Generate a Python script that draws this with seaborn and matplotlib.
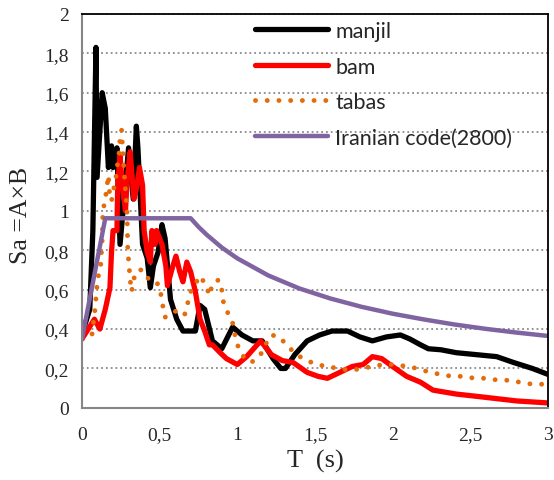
import matplotlib
matplotlib.use("Agg")
import matplotlib.pyplot as plt
import seaborn as sns
import pandas as pd

# spectra (T in s, Sa)
manjil_t = [0, 0.006, 0.05, 0.07, 0.09, 0.097, 0.13, 0.15, 0.17, 0.19, 0.20, 0.225, 0.245,
            0.30, 0.33, 0.35, 0.36, 0.39, 0.42, 0.44, 0.46, 0.49, 0.515, 0.535, 0.57, 0.61,
            0.65, 0.70, 0.73, 0.76, 0.79, 0.84, 0.90, 0.97, 1.03, 1.10, 1.16, 1.23, 1.28,
            1.31, 1.37, 1.45, 1.53, 1.61, 1.71, 1.79, 1.87, 1.96, 2.05, 2.11, 2.18, 2.23,
            2.31, 2.41, 2.54, 2.67, 2.78, 2.90, 3.0]
manjil_sa = [0.35, 0.39, 0.50, 0.90, 1.83, 1.17, 1.60, 1.52, 1.22, 1.33, 1.22, 1.32, 0.83,
             1.32, 1.06, 1.43, 1.32, 0.83, 0.76, 0.61, 0.72, 0.79, 0.93, 0.86, 0.55, 0.45,
             0.39, 0.39, 0.39, 0.52, 0.50, 0.34, 0.30, 0.41, 0.37, 0.34, 0.34, 0.25, 0.20,
             0.20, 0.27, 0.34, 0.37, 0.39, 0.39, 0.36, 0.34, 0.36, 0.37, 0.35, 0.32, 0.30,
             0.295, 0.28, 0.27, 0.26, 0.23, 0.20, 0.17]

bam_t = [0, 0.08, 0.115, 0.15, 0.18, 0.19, 0.20, 0.225, 0.23, 0.245, 0.26, 0.28, 0.29, 0.31,
         0.32, 0.335, 0.355, 0.37, 0.39, 0.40, 0.42, 0.44, 0.45, 0.47, 0.48, 0.515, 0.54,
         0.55, 0.585, 0.605, 0.63, 0.65, 0.675, 0.70, 0.73, 0.76, 0.79, 0.82, 0.84, 0.89,
         0.93, 1.0, 1.06, 1.15, 1.22, 1.29, 1.36, 1.45, 1.52, 1.58, 1.66, 1.74, 1.81, 1.87,
         1.93, 2.0, 2.09, 2.18, 2.26, 2.41, 2.58, 2.80, 3.0]
bam_sa = [0.35, 0.45, 0.40, 0.50, 0.61, 0.79, 0.90, 0.90, 1.13, 1.28, 1.13, 1.0, 1.15, 1.30,
          1.20, 1.06, 1.13, 1.22, 1.13, 0.90, 0.79, 0.74, 0.90, 0.83, 0.90, 0.83, 0.72,
          0.62, 0.72, 0.77, 0.69, 0.64, 0.74, 0.69, 0.59, 0.45, 0.39, 0.32, 0.32, 0.28,
          0.25, 0.22, 0.26, 0.34, 0.27, 0.24, 0.23, 0.18, 0.16, 0.15, 0.18, 0.21, 0.22, 0.26,
          0.25, 0.21, 0.16, 0.13, 0.09, 0.07, 0.055, 0.035, 0.025]

tabas_t = [0, 0.064, 0.084, 0.10, 0.12, 0.13, 0.135, 0.15, 0.16, 0.17, 0.18, 0.19, 0.225,
           0.23, 0.24, 0.245, 0.255, 0.265, 0.28, 0.29, 0.295, 0.31, 0.32, 0.33, 0.36, 0.39,
           0.44, 0.47, 0.49, 0.51, 0.52, 0.535, 0.57, 0.60, 0.625, 0.66, 0.70, 0.73, 0.76,
           0.80, 0.82, 0.84, 0.88, 0.90, 0.91, 0.94, 0.97, 0.985, 1.0, 1.04, 1.09, 1.15,
           1.18, 1.22, 1.27, 1.33, 1.38, 1.45, 1.51, 1.58, 1.65, 1.73, 1.80, 1.87, 1.94,
           2.02, 2.09, 2.16, 2.24, 2.31, 2.38, 2.45, 2.53, 2.61, 2.68, 2.75, 2.82, 2.90,
           2.97, 3.0]
tabas_sa = [0.35, 0.37, 0.50, 0.65, 0.72, 0.85, 1.0, 1.06, 1.12, 1.18, 1.06, 1.05, 1.20,
            1.25, 1.30, 1.37, 1.41, 1.27, 1.10, 1.0, 0.80, 0.65, 0.59, 0.65, 0.70, 0.70,
            0.64, 0.63, 0.63, 0.57, 0.52, 0.46, 0.48, 0.49, 0.49, 0.47, 0.59, 0.63, 0.67,
            0.62, 0.57, 0.63, 0.65, 0.60, 0.54, 0.48, 0.43, 0.37, 0.32, 0.26, 0.23, 0.27,
            0.32, 0.37, 0.36, 0.31, 0.27, 0.24, 0.22, 0.21, 0.20, 0.19, 0.20, 0.21, 0.22,
            0.22, 0.21, 0.20, 0.18, 0.17, 0.16, 0.16, 0.15, 0.15, 0.14, 0.14, 0.13, 0.12,
            0.12, 0.11]

code_t = [0, 0.15, 0.7, 0.75, 0.8, 0.9, 1.0, 1.2, 1.4, 1.6, 1.8, 2.0, 2.2, 2.4, 2.6, 2.8, 3.0]
code_sa = [0.35, 0.9625, 0.9625, 0.919, 0.881, 0.814, 0.759, 0.672, 0.606, 0.555, 0.513,
           0.478, 0.449, 0.423, 0.401, 0.382, 0.365]

y_ticks = [0, 0.2, 0.4, 0.6, 0.8, 1, 1.2, 1.4, 1.6, 1.8, 2]
y_labels = ["0", "0,2", "0,4", "0,6", "0,8", "1", "1,2", "1,4", "1,6", "1,8", "2"]
x_ticks = [0, 0.5, 1, 1.5, 2, 2.5, 3]
x_labels = ["0", "0,5", "1", "1,5", "2", "2,5", "3"]

sns.set_style("white")

fig = plt.figure(figsize=(5.54, 4.81), dpi=100)
ax = fig.add_axes([0.148, 0.150, 0.841, 0.819])

ax.yaxis.grid(True, linestyle=":", color="#8a8a8a", linewidth=1.3)
ax.set_axisbelow(True)

sns.lineplot(x=manjil_t, y=manjil_sa, ax=ax, color="black", linewidth=3.8,
             sort=False, estimator=None, label="manjil")
sns.lineplot(x=bam_t, y=bam_sa, ax=ax, color="#ff0000", linewidth=3.8,
             sort=False, estimator=None, label="bam")
sns.lineplot(x=tabas_t, y=tabas_sa, ax=ax, color="#e46c0a", linewidth=3.5,
             linestyle=(0, (0.01, 2.4)), dash_capstyle="round",
             sort=False, estimator=None, label="tabas")
sns.lineplot(x=code_t, y=code_sa, ax=ax, color="#8064a2", linewidth=3.2,
             sort=False, estimator=None, label="Iranian code(2800)")

ax.set_xlim(0, 3)
ax.set_ylim(0, 2)
ax.set_xticks(x_ticks)
ax.set_xticklabels(x_labels)
ax.set_yticks(y_ticks)
ax.set_yticklabels(y_labels)
ax.tick_params(length=0, labelsize=14)
ax.tick_params(axis="x", pad=13)
ax.tick_params(axis="y", pad=9.5)
for lab in ax.get_xticklabels() + ax.get_yticklabels():
    lab.set_family("Liberation Serif")

ax.set_xlabel("T  (s)", family="Liberation Serif", fontsize=19)
ax.set_ylabel("Sa =A×B", family="Liberation Serif", fontsize=18.5)
ax.xaxis.set_label_coords(0.5, -0.105)
ax.yaxis.set_label_coords(-0.108, 0.49)

for side in ["left", "bottom"]:
    ax.spines[side].set_color("#868686")
    ax.spines[side].set_linewidth(1.5)
for side in ["top", "right"]:
    ax.spines[side].set_color("black")
    ax.spines[side].set_linewidth(1.3)

ax.legend(loc="upper left", bbox_to_anchor=(0.371, 0.982), frameon=False,
          borderpad=0, borderaxespad=0, handlelength=3.4, handletextpad=0.33,
          labelspacing=0.72, prop={"family": "Lato", "size": 15.5})

fig.savefig("out.png", dpi=100)
